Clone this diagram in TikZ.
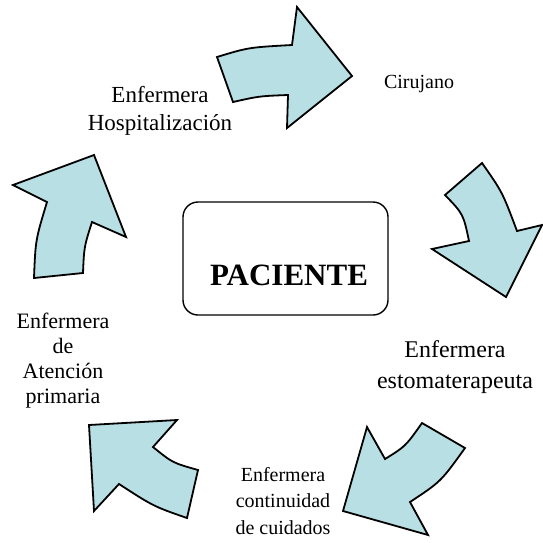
\documentclass[tikz,border=0pt]{standalone}
\usepackage{fontspec}
\setmainfont{Liberation Serif}
\usepackage{xcolor}
\usepackage{tikz}
\usetikzlibrary{positioning}
\definecolor{celeste}{RGB}{184,223,227}

\begin{document}
\begin{tikzpicture}[x=1pt, y=-1pt,
        flecha/.style={draw, line width=1.8pt, fill=celeste, line join=miter},
        caja/.style={draw, rectangle, rounded corners=15pt, line width=1.4pt, minimum width=205pt, minimum height=113pt},
        etiqueta/.style={align=center, inner sep=0pt}
    ]
        \useasboundingbox (0,0) rectangle (543,542);

        % curved block arrows round the circle
        \draw[flecha] (217,57) .. controls (248.5,47.4) .. (292,45) -- (297,7) -- (352,76) -- (287,128) -- (288,95) .. controls (259.2,96.1) .. (233,102) -- cycle;
        \draw[flecha] (482,163) .. controls (502.4,192.1) .. (517,231) -- (542,225) -- (506,297) -- (432,249) -- (469,241) .. controls (463.3,214) .. (445,195) -- cycle;
        \draw[flecha] (385,459) .. controls (405.5,446.3) .. (422,423) -- (465,448) .. controls (440.8,481.7) .. (410,502) -- (428,535) -- (343,511) -- (367,427) -- cycle;
        \draw[flecha] (89,425) -- (177,420) -- (153,447) .. controls (172.5,462.8) .. (198,470) -- (187,518) .. controls (153.4,506.3) .. (119,484) -- (94,511) -- cycle;
        \draw[flecha] (94,155) -- (126,237) -- (92,222) .. controls (84.1,246.8) .. (83,273) -- (34,278) .. controls (35.5,240) .. (47,202) -- (13,185) -- cycle;

        % centre
        \node[caja] (marco) at (285.5,258.5) {};
        \node[font=\fontsize{31}{36}\selectfont\bfseries, inner sep=0pt] (paciente) at (289,275) {PACIENTE};

        % labels
        \node[etiqueta, font=\fontsize{23}{28}\selectfont] (hosp) at (160,111) {Enfermera\\Hospitalización};
        \node[etiqueta, font=\fontsize{20}{24}\selectfont] (ciru) at (419,84) {Cirujano};
        \node[etiqueta, font=\fontsize{24}{31}\selectfont] (esto) at (455,367) {Enfermera\\estomaterapeuta};
        \node[etiqueta, font=\fontsize{22}{25}\selectfont] (prim) at (63,361) {Enfermera\\de\\Atención\\primaria};
        \node[etiqueta, font=\fontsize{20}{26.5}\selectfont] (cont) at (283,501) {Enfermera\\continuidad\\de cuidados};
    \end{tikzpicture}
\end{document}
